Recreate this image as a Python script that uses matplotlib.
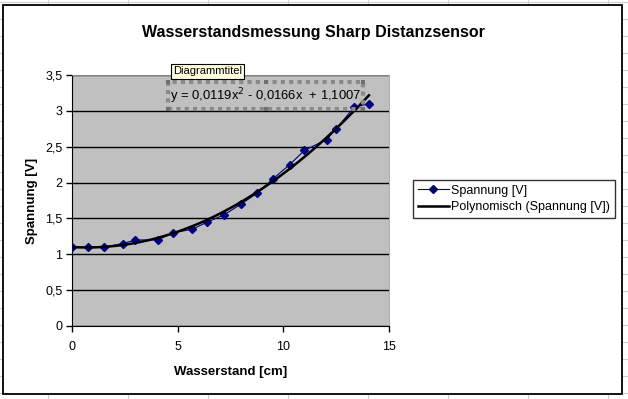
import numpy as np
import matplotlib.pyplot as plt
from matplotlib.patches import Rectangle
from matplotlib.lines import Line2D
from matplotlib.ticker import FuncFormatter

plt.rcParams['font.family'] = ['Liberation Sans', 'DejaVu Sans']

# data
wasserstand = [0, 0.75, 1.5, 2.4, 3.0, 4.05, 4.8, 5.7, 6.4, 7.2, 8.0, 8.75,
               9.5, 10.3, 11.0, 12.05, 12.5, 13.35, 14.05]
spannung = [1.1, 1.1, 1.1, 1.15, 1.2, 1.2, 1.3, 1.35, 1.45, 1.55, 1.7, 1.85,
            2.05, 2.25, 2.45, 2.6, 2.75, 3.05, 3.1]
trend_coef = [0.0119, -0.0166, 1.1007]   # from the trendline label
x_ticks = [0, 5, 10, 15]
y_ticks = [0, 0.5, 1, 1.5, 2, 2.5, 3, 3.5]

W, H = 628, 399


def fx(px):
    return px / W


def fy(py):
    return 1 - py / H


fig = plt.figure(figsize=(W / 100, H / 100), dpi=100)

# spreadsheet cell lines behind the chart
for yy in range(2, H, 17):
    fig.add_artist(Line2D([0, 1], [fy(yy), fy(yy)], color='#cfcfcf', lw=0.8, zorder=0))
for xx in range(48, W, 80):
    fig.add_artist(Line2D([fx(xx), fx(xx)], [0, 1], color='#cfcfcf', lw=0.8, zorder=0))

# chart area
fig.add_artist(Rectangle((fx(3), fy(394)), fx(619), 389 / H, facecolor='white',
                         edgecolor='black', lw=1.3, zorder=1))

ax = fig.add_axes([fx(72), fy(326), fx(389 - 72), (326 - 75) / H], zorder=2)
ax.set_facecolor('#c0c0c0')

xs = np.linspace(min(wasserstand), max(wasserstand), 200)
ax.plot(wasserstand, spannung, color='#000080', lw=0.8, marker='D', markersize=4,
        label='Spannung [V]', zorder=3)
ax.plot(xs, np.polyval(trend_coef, xs), color='black', lw=1.8,
        label='Polynomisch (Spannung [V])', zorder=4)

ax.set_xlim(0, 15)
ax.set_ylim(0, 3.5)
ax.set_xticks(x_ticks)
ax.set_yticks(y_ticks)
comma = FuncFormatter(lambda v, p: ('%g' % v).replace('.', ','))
ax.xaxis.set_major_formatter(comma)
ax.yaxis.set_major_formatter(comma)
ax.yaxis.grid(True, color='black', lw=1)
ax.set_axisbelow(True)
ax.tick_params(direction='out', length=4, width=1, labelsize=9, pad=3)
ax.tick_params(axis='x', pad=7)
for s in ['top', 'right']:
    ax.spines[s].set_color('#a0a0a0')
    ax.spines[s].set_linewidth(0.6)

ax.set_xlabel('Wasserstand [cm]', fontweight='bold', fontsize=9.5, labelpad=9)
ax.set_ylabel('Spannung [V]', fontweight='bold', fontsize=9.5, labelpad=5)

fig.text(fx(313), fy(32), 'Wasserstandsmessung Sharp Distanzsensor', fontsize=11.5,
         fontweight='bold', ha='center', va='center', zorder=5)

leg = ax.legend(loc='center left', bbox_to_anchor=(fx(407), fy(199)),
                bbox_transform=fig.transFigure, fontsize=9, frameon=True,
                fancybox=False, borderpad=0.35, handlelength=2.5, handletextpad=0.2,
                labelspacing=0.35)
leg.get_frame().set_edgecolor('black')
leg.get_frame().set_linewidth(1)

# selected equation label with its hatched frame
fig.add_artist(Rectangle((fx(168), fy(109)), fx(363 - 168), (109 - 82) / H,
                         facecolor='none', edgecolor='#8a8a8a', lw=3,
                         linestyle=(0, (1, 1)), zorder=6))
for hx in [168, 265.5, 363]:
    for hy in [82, 109]:
        fig.add_artist(Rectangle((fx(hx - 2), fy(hy + 2)), fx(4), 4 / H,
                                 facecolor='#707070', edgecolor='none', zorder=7))
fig.text(fx(170), fy(96), 'y = 0,0119x$^2$ - 0,0166x  + 1,1007', fontsize=9.4,
         ha='left', va='center', zorder=7)

# tooltip
fig.text(fx(173), fy(71.5), 'Diagrammtitel', fontsize=8, ha='left', va='center', zorder=8,
         bbox=dict(boxstyle='square,pad=0.2', facecolor='#ffffe1', edgecolor='black', lw=0.8))

fig.savefig('out.png', dpi=100)
